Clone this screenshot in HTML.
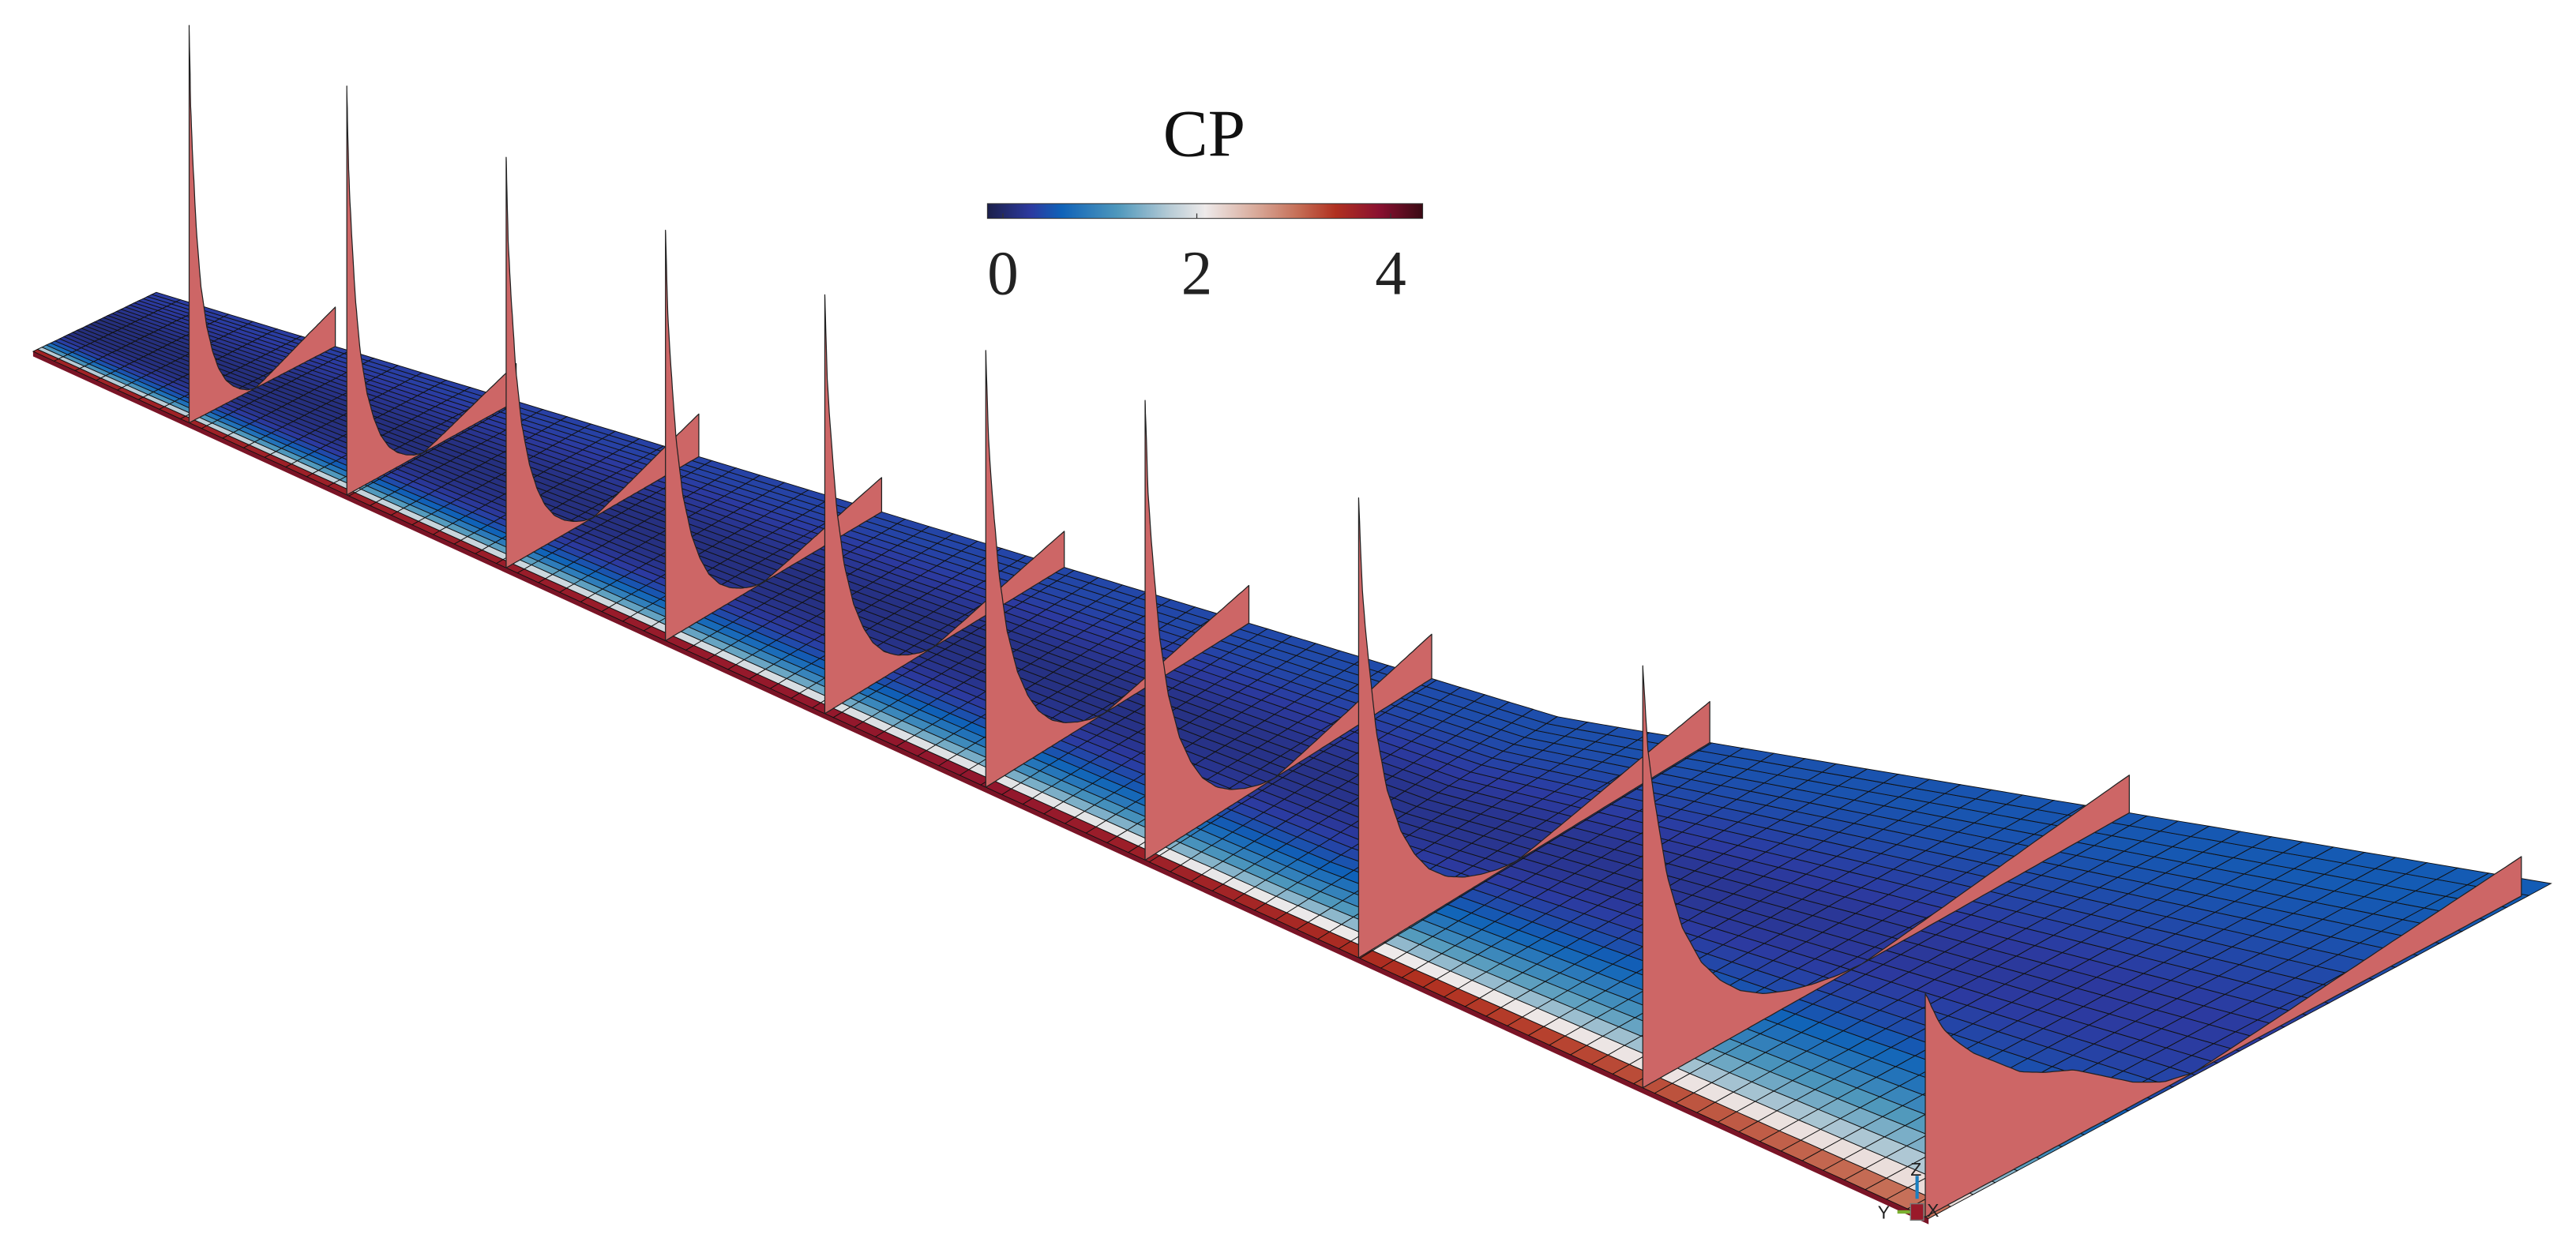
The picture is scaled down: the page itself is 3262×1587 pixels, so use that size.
<!DOCTYPE html>
<html><head><meta charset="utf-8"><style>
html,body{margin:0;padding:0;background:#fff;}
svg{display:block;}
</style></head><body>
<svg id="chart" width="3262" height="1587" viewBox="0 0 1568 763" xmlns="http://www.w3.org/2000/svg">
<defs>
<linearGradient id="cmap" x1="0" x2="1" y1="0" y2="0">
<stop offset="0" stop-color="#1b1f4a"/><stop offset="0.1" stop-color="#2c3aa0"/><stop offset="0.17" stop-color="#0f62b8"/>
<stop offset="0.3" stop-color="#4f98bc"/><stop offset="0.42" stop-color="#b8ccd6"/><stop offset="0.5" stop-color="#eeeaea"/>
<stop offset="0.62" stop-color="#d8a898"/><stop offset="0.72" stop-color="#c46a52"/><stop offset="0.8" stop-color="#b03020"/>
<stop offset="0.9" stop-color="#8a1030"/><stop offset="1" stop-color="#3a0a14"/>
</linearGradient>
</defs>
<g id="surface"></g>
<g id="planes"></g>
<g>
<text x="733" y="95" font-family="Liberation Serif, serif" font-size="41" text-anchor="middle" fill="#111">CP</text>
<rect x="601" y="124" width="265" height="9" fill="url(#cmap)" stroke="#333" stroke-width="0.5"/>
<g id="cbticks"></g>
</g>
<g font-family="Liberation Sans, sans-serif" font-size="11" fill="#222">
<line x1="1167" y1="730" x2="1167" y2="716" stroke="#1a7fc0" stroke-width="2"/>
<line x1="1167" y1="738" x2="1155" y2="738" stroke="#7ab030" stroke-width="2"/>
<rect x="1163" y="733" width="8" height="10" fill="#9a1a2a" stroke="#777" stroke-width="0.7"/>
<text x="1163" y="716">Z</text>
<text x="1143" y="742">Y</text>
<text x="1173" y="741">X</text>
</g>
</svg>
<script>
// colorbar ticks
const cbTicks = [0, 2, 4];
// station data: leading-edge x, Cp peak and trailing-edge values
const stationLEx = [115, 211, 308, 405, 502, 600, 697, 827, 1000, 1172];
const cpPeak = [2.42, 2.49, 2.50, 2.50, 2.55, 2.66, 2.80, 2.80, 2.57, 1.36];
const cpTE = [0.24, 0.23, 0.26, 0.21, 0.22, 0.23, 0.27, 0.25, 0.23, 0.24];
// normalized chordwise profiles
const profileT = [0,0.005,0.01,0.02,0.03,0.05,0.08,0.12,0.16,0.2,0.25,0.3,0.35,0.4,0.45,0.5,0.6,0.7,0.8,0.9,1];
const profileShape = [1,0.9,0.8,0.7,0.62,0.47,0.33,0.22,0.15,0.1,0.06,0.035,0.018,0.006,0,0,0,0,0,0,0];
const profileShapeRoot = [1,0.97,0.93,0.86,0.8,0.72,0.62,0.52,0.42,0.36,0.3,0.2,0.1,0.03,0,0,0,0,0,0,0];
const profileTE = [0,0,0,0,0,0,0,0,0,0,0,0,0,0,0,0.08,0.26,0.45,0.64,0.82,1];
// surface Cp chordwise rows at tip, mid, root
const surfTip = [3.6,1.7,1.1,0.7,0.45,0.32,0.22,0.16,0.12,0.1,0.1,0.1,0.1,0.1,0.1,0.1,0.12,0.14,0.16,0.18,0.2,0.22,0.24,0.26,0.28,0.3,0.3,0.3];
const surfMid = [3.8,2.0,1.4,1.05,0.8,0.62,0.48,0.38,0.3,0.25,0.2,0.17,0.15,0.14,0.14,0.14,0.15,0.17,0.2,0.23,0.26,0.3,0.33,0.36,0.38,0.4,0.4,0.4];
const surfRoot = [3.0,2.2,1.7,1.45,1.25,1.05,0.85,0.72,0.58,0.48,0.42,0.37,0.33,0.31,0.3,0.3,0.32,0.35,0.38,0.41,0.44,0.47,0.5,0.52,0.54,0.56,0.56,0.56];

const NS='http://www.w3.org/2000/svg';
const A=[20,214], B=[1174,742];
const CPMIN=-0.16, CPMAX=4.33;
function LE(s){return [A[0]+(B[0]-A[0])*s, A[1]+(B[1]-A[1])*s];}
function TE(s){
  let x = s<0.646 ? 95+(950-95)*s/0.646 : 950+(1553-950)*(s-0.646)/0.354;
  let y = x<950 ? 178+(x-95)*(437-178)/855 : 437+(x-950)*(538-437)/603;
  return [x,y];
}
function P(s,t){const l=LE(s),e=TE(s);return [l[0]+(e[0]-l[0])*t,l[1]+(e[1]-l[1])*t];}
const stops=[[0,'#1b1f4a'],[0.1,'#2c3aa0'],[0.17,'#0f62b8'],[0.3,'#4f98bc'],[0.42,'#b8ccd6'],[0.5,'#eeeaea'],[0.62,'#d8a898'],[0.72,'#c46a52'],[0.8,'#b03020'],[0.9,'#8a1030'],[1,'#3a0a14']];
function hex(h){return [1,3,5].map(i=>parseInt(h.substr(i,2),16));}
function cmap(v){
  let f=(v-CPMIN)/(CPMAX-CPMIN); f=Math.max(0,Math.min(1,f));
  for(let i=1;i<stops.length;i++){ if(f<=stops[i][0]){const a=hex(stops[i-1][1]),b=hex(stops[i][1]);const u=(f-stops[i-1][0])/(stops[i][0]-stops[i-1][0]);
    return 'rgb('+a.map((c,k)=>Math.round(c+(b[k]-c)*u)).join(',')+')';}}
  return stops[stops.length-1][1];
}
function lerpArr(xs,ys,x){for(let i=1;i<xs.length;i++){if(x<=xs[i]){const u=(x-xs[i-1])/(xs[i]-xs[i-1]);return ys[i-1]+(ys[i]-ys[i-1])*u;}}return ys[ys.length-1];}
const sx=v=>601+(v-CPMIN)/(CPMAX-CPMIN)*265;
const cbt=document.getElementById('cbticks');
cbTicks.forEach(v=>{
  const l=document.createElementNS(NS,'line');l.setAttribute('x1',sx(v));l.setAttribute('x2',sx(v));l.setAttribute('y1',130);l.setAttribute('y2',133);l.setAttribute('stroke','#333');l.setAttribute('stroke-width','0.6');
  
  
  cbt.appendChild(l);
  const t=document.createElementNS(NS,'text');t.setAttribute('x',sx(v));t.setAttribute('y',179);t.setAttribute('text-anchor','middle');
  t.setAttribute('font-family','Liberation Serif, serif');t.setAttribute('font-size','38');t.setAttribute('fill','#222');t.textContent=v;
  
  
  cbt.appendChild(t);
});
// surface
const surf=document.getElementById('surface');
const lip=document.createElementNS(NS,'polygon');
lip.setAttribute('points',[A[0],A[1],B[0],B[1],B[0],B[1]+3.5,A[0],A[1]+3].join(' '));
lip.setAttribute('fill','#7a1426');


surf.appendChild(lip);
const NC=90, NR=surfTip.length;
let html='';
for(let i=0;i<NC;i++){
  const s0=i/NC,s1=(i+1)/NC,sm=(s0+s1)/2;
  for(let j=0;j<NR;j++){
    const t0=j/NR,t1=(j+1)/NR;
    const cp = sm<0.5 ? surfTip[j]+(surfMid[j]-surfTip[j])*sm/0.5 : surfMid[j]+(surfRoot[j]-surfMid[j])*(sm-0.5)/0.5;
    const pts=[P(s0,t0),P(s1,t0),P(s1,t1),P(s0,t1)].map(p=>p[0].toFixed(1)+','+p[1].toFixed(1)).join(' ');
    html+='<polygon points="'+pts+'" fill="'+cmap(cp)+'" stroke="#111" stroke-width="0.45"/>';
  }
}
surf.insertAdjacentHTML('beforeend',html);
// cp sections
const planes=document.getElementById('planes');
const SCALE=100;
stationLEx.forEach((lx,k)=>{
  const s=(lx-A[0])/(B[0]-A[0]);
  const shape = k===stationLEx.length-1 ? profileShapeRoot : profileShape;
  const tEnd = k===stationLEx.length-1 ? 0.96 : 1;
  const top=[], base=[];
  const N=120;
  for(let n=0;n<=N;n++){
    const t=Math.pow(n/N,1.6);
    const h=(cpPeak[k]*lerpArr(profileT,shape,t)+cpTE[k]*lerpArr(profileT,profileTE,t))*SCALE;
    const p=P(s,t*tEnd);top.push([p[0],p[1]-h]);base.push(p);
  }
  const pts=[base[0]].concat(top).concat([base[N]]);
  const poly=document.createElementNS(NS,'polygon');
  poly.setAttribute('points',pts.map(p=>p[0].toFixed(1)+','+p[1].toFixed(1)).join(' ')+' '+base.slice().reverse().map(p=>p[0].toFixed(1)+','+p[1].toFixed(1)).join(' '));
  poly.setAttribute('fill','#cd6666');
  poly.setAttribute('stroke','#222');
  poly.setAttribute('stroke-width','0.6');
  poly.setAttribute('stroke-linejoin','round');
  
  
  planes.appendChild(poly);
});
</script>
</body></html>
